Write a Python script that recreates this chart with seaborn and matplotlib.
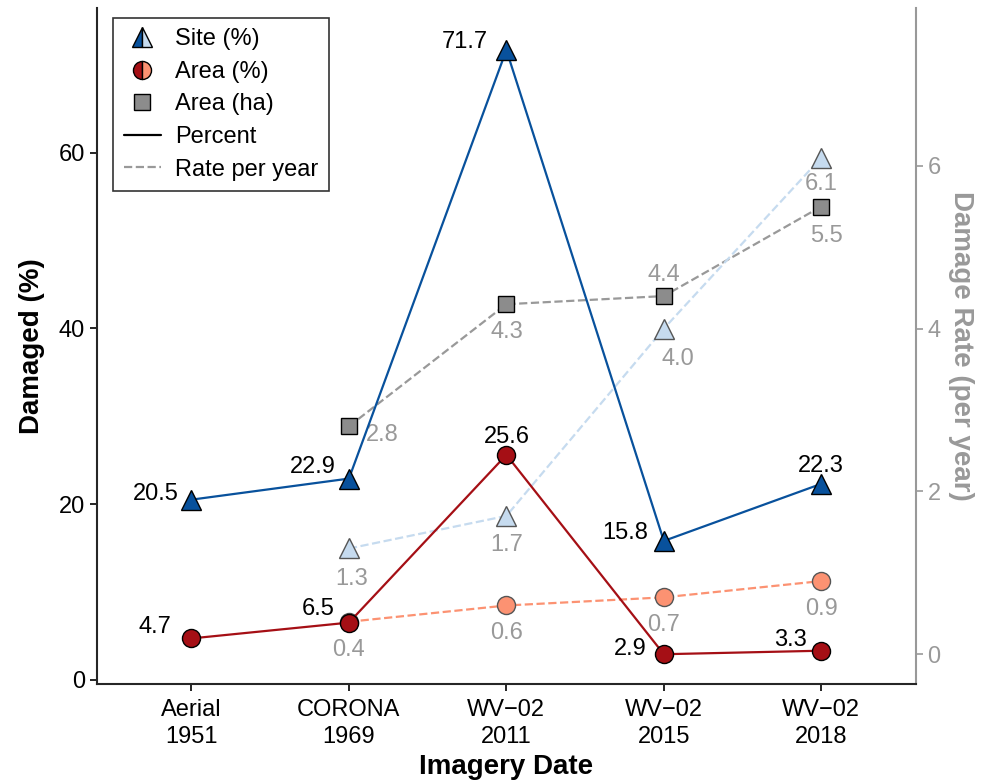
import pandas as pd
import matplotlib
matplotlib.use('Agg')
import matplotlib.pyplot as plt
import seaborn as sns
from matplotlib.lines import Line2D
from matplotlib import font_manager

# === DATA ===
DATES = ['Aerial\n1951', 'CORONA\n1969', 'WV\u221202\n2011', 'WV\u221202\n2015', 'WV\u221202\n2018']
SITE_PCT = [20.5, 22.9, 71.7, 15.8, 22.3]
AREA_PCT = [4.7, 6.5, 25.6, 2.9, 3.3]
SITE_RATE = [None, 1.3, 1.7, 4.0, 6.1]
AREA_RATE = [None, 0.4, 0.6, 0.7, 0.9]
AREA_HA = [None, 2.8, 4.3, 4.4, 5.5]

DARK_BLUE = '#08519c'
LIGHT_BLUE = '#c6dbef'
DARK_RED = '#a50f15'
SALMON = '#fc9272'
GRAY = '#999999'

sns.set_style('ticks')
plt.rcParams['font.family'] = ['Liberation Sans', 'DejaVu Sans']
plt.rcParams['text.color'] = 'black'
plt.rcParams['axes.labelcolor'] = 'black'

# condensed face for axis titles if there is one
try:
    font_manager.findfont('Liberation Sans Narrow', fallback_to_default=False)
    TITLE_FAM = ['Liberation Sans Narrow', 'Liberation Sans']
    TITLE_FS = 22
except Exception:
    TITLE_FAM = ['Liberation Sans', 'DejaVu Sans']
    TITLE_FS = 20

x = list(range(len(DATES)))
df = pd.DataFrame({'x': x, 'site_pct': SITE_PCT, 'area_pct': AREA_PCT,
                   'site_rate': SITE_RATE, 'area_rate': AREA_RATE, 'area_ha': AREA_HA})
df = df.astype(float)

fig, ax = plt.subplots(figsize=(9.9, 7.84), dpi=100)
ax2 = ax.twinx()

# rate per year on the right axis (dashed)
rate = df.dropna()
sns.lineplot(data=rate, x='x', y='area_ha', ax=ax2, color=GRAY, linestyle='--', lw=1.6,
             marker='s', markersize=12, markerfacecolor='#8c8c8c', markeredgecolor='black',
             markeredgewidth=1, zorder=2)
sns.lineplot(data=rate, x='x', y='site_rate', ax=ax2, color=LIGHT_BLUE, linestyle='--', lw=1.6,
             marker='^', markersize=15, markerfacecolor=LIGHT_BLUE, markeredgecolor='#555555',
             markeredgewidth=1, zorder=2)
sns.lineplot(data=rate, x='x', y='area_rate', ax=ax2, color=SALMON, linestyle='--', lw=1.6,
             marker='o', markersize=13, markerfacecolor=SALMON, markeredgecolor='#555555',
             markeredgewidth=1, zorder=2)

# percent on the left axis (solid) -- drawn on top
ax.set_zorder(ax2.get_zorder() + 1)
ax.patch.set_visible(False)
sns.lineplot(data=df, x='x', y='site_pct', ax=ax, color=DARK_BLUE, lw=1.6,
             marker='^', markersize=15, markerfacecolor=DARK_BLUE, markeredgecolor='black',
             markeredgewidth=1)
sns.lineplot(data=df, x='x', y='area_pct', ax=ax, color=DARK_RED, lw=1.6,
             marker='o', markersize=13, markerfacecolor=DARK_RED, markeredgecolor='black',
             markeredgewidth=1)

# value labels
fs = 17
site_off = [(-26, 4), (-26, 8), (-30, 6), (-28, 6), (0, 13)]
area_off = [(-26, 8), (-22, 10), (0, 13), (-24, 4), (-22, 8)]
for i in x:
    ax.annotate(f'{SITE_PCT[i]:.1f}', (i, SITE_PCT[i]), xytext=site_off[i], textcoords='offset points',
                ha='center', va='center', fontsize=fs, color='black')
    ax.annotate(f'{AREA_PCT[i]:.1f}', (i, AREA_PCT[i]), xytext=area_off[i], textcoords='offset points',
                ha='center', va='center', fontsize=fs, color='black')

ha_off = [None, (24, -6), (0, -20), (0, 15), (4, -21)]
srate_off = [None, (2, -22), (0, -21), (10, -22), (0, -19)]
arate_off = [None, (0, -20), (0, -20), (0, -20), (0, -20)]
for i in x[1:]:
    ax2.annotate(f'{AREA_HA[i]:.1f}', (i, AREA_HA[i]), xytext=ha_off[i], textcoords='offset points',
                 ha='center', va='center', fontsize=fs, color=GRAY)
    ax2.annotate(f'{SITE_RATE[i]:.1f}', (i, SITE_RATE[i]), xytext=srate_off[i], textcoords='offset points',
                 ha='center', va='center', fontsize=fs, color=GRAY)
    ax2.annotate(f'{AREA_RATE[i]:.1f}', (i, AREA_RATE[i]), xytext=arate_off[i], textcoords='offset points',
                 ha='center', va='center', fontsize=fs, color=GRAY)

# axes
ax.set_xlim(-0.6, 4.6)
ax.set_ylim(-0.45, 76.5)
ax2.set_ylim(-0.36, 7.94)
ax.set_xticks(x)
ax.set_xticklabels(DATES, linespacing=1.3)
ax.set_yticks([0, 20, 40, 60])
ax2.set_yticks([0, 2, 4, 6])
ax.tick_params(labelsize=17, length=5, width=1.2, colors='black')
ax.tick_params(axis='x', pad=6)
ax2.tick_params(labelsize=17, length=5, width=1.2, colors=GRAY)

ax.set_xlabel('Imagery Date', fontsize=TITLE_FS, fontweight='bold', family=TITLE_FAM, labelpad=4)
ax.set_ylabel('Damaged (%)', fontsize=TITLE_FS, fontweight='bold', family=TITLE_FAM, labelpad=10)
ax2.set_ylabel('Damage Rate (per year)', fontsize=TITLE_FS, fontweight='bold', color=GRAY, rotation=270,
               labelpad=24, family=TITLE_FAM)

for a in (ax, ax2):
    a.spines['top'].set_visible(False)
ax.spines['right'].set_visible(False)
ax.spines['left'].set_linewidth(1.5)
ax.spines['bottom'].set_linewidth(1.5)
ax2.spines['left'].set_visible(False)
ax2.spines['bottom'].set_visible(False)
ax2.spines['right'].set_color(GRAY)
ax2.spines['right'].set_linewidth(1.5)

# legend
handles = [
    Line2D([], [], ls='none', marker='^', markersize=15, fillstyle='left', markerfacecolor=DARK_BLUE,
           markerfacecoloralt=LIGHT_BLUE, markeredgecolor='black'),
    Line2D([], [], ls='none', marker='o', markersize=13, fillstyle='left', markerfacecolor=DARK_RED,
           markerfacecoloralt=SALMON, markeredgecolor='black'),
    Line2D([], [], ls='none', marker='s', markersize=12, markerfacecolor='#8c8c8c', markeredgecolor='black'),
    Line2D([], [], color='black', lw=1.6),
    Line2D([], [], color=GRAY, lw=1.6, ls='--'),
]
labels = ['Site (%)', 'Area (%)', 'Area (ha)', 'Percent', 'Rate per year']
leg = ax.legend(handles, labels, loc='upper left', bbox_to_anchor=(0.005, 1.003), fontsize=17,
                frameon=True, fancybox=False, edgecolor='black', handlelength=1.6,
                labelspacing=0.45, borderpad=0.45, handletextpad=0.6)
leg.get_frame().set_linewidth(1.2)

fig.subplots_adjust(left=0.098, right=0.925, top=0.99, bottom=0.128)
fig.savefig('out.png', dpi=100)
